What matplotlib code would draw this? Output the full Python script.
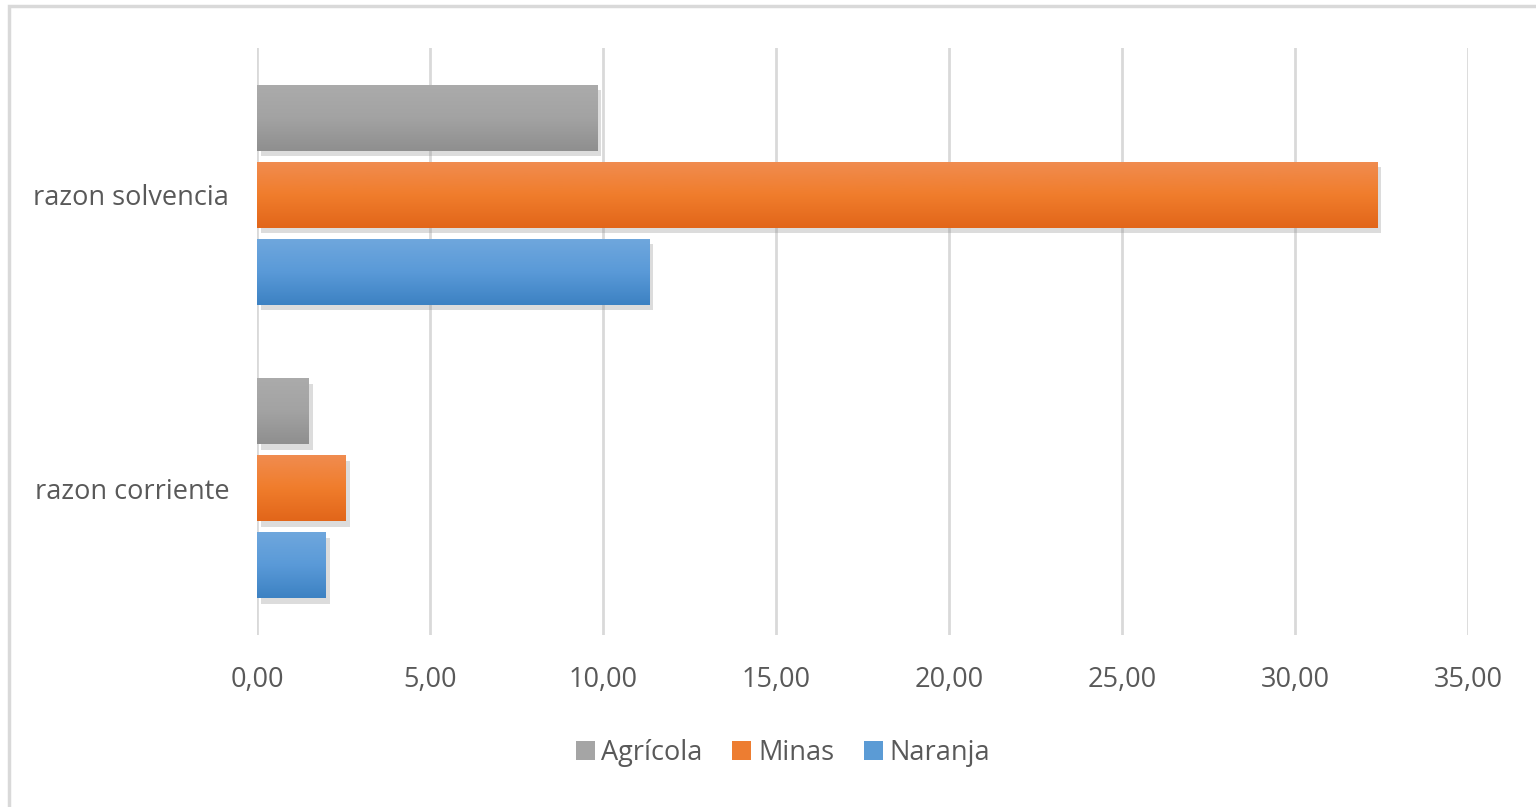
import matplotlib.pyplot as plt
import matplotlib.patheffects as pe
from matplotlib.colors import LinearSegmentedColormap
from matplotlib.patches import Rectangle
import numpy as np

categorias = ["razon corriente", "razon solvencia"]
series = ["Agrícola", "Minas", "Naranja"]
agricola = [1.50, 9.83]
minas = [2.57, 32.37]
naranja = [1.99, 11.33]
xticks = [0, 5, 10, 15, 20, 25, 30, 35]
xlabels = ["0,00", "5,00", "10,00", "15,00", "20,00", "25,00", "30,00", "35,00"]

valores = [agricola, minas, naranja]
# top, middle, bottom colour of each gradient
grad = [("#ababab", "#a3a3a3", "#8f8f8f"),
        ("#f08c50", "#f07d2c", "#e2661a"),
        ("#6fa7dd", "#5a9ad8", "#3d82c3")]
solid = ["#a5a5a5", "#ed7d31", "#5b9bd5"]

plt.rcParams['font.family'] = ['Open Sans', 'DejaVu Sans']
txt = "#595959"

fig = plt.figure(figsize=(15.36, 8.07), dpi=100)
ax = fig.add_axes([257/1536, 1 - 635/807, (1468 - 257)/1536, (635 - 48)/807])

h = 0.225
step = 0.262
ypos = np.arange(len(categorias))
sombra = [pe.SimplePatchShadow(offset=(3, -4), shadow_rgbFace="#8c8c8c", alpha=0.3), pe.Normal()]
for i, (vals, g, c) in enumerate(zip(valores, grad, solid)):
    off = (1 - i) * step
    bars = ax.barh(ypos + off, vals, height=h, color=c, label=series[i], zorder=3)
    cmap = LinearSegmentedColormap.from_list("g%d" % i, list(g))
    for b in bars:
        b.set_path_effects(sombra)
        x0, y0, w, hh = b.get_x(), b.get_y(), b.get_width(), b.get_height()
        im = ax.imshow(np.linspace(0, 1, 50).reshape(-1, 1), cmap=cmap, aspect='auto',
                       extent=(x0, x0 + w, y0, y0 + hh), origin='upper', zorder=4,
                       interpolation='bilinear')
        im.set_clip_path(b)

ax.set_xlim(0, 35)
ax.set_ylim(-0.5, 1.5)
ax.set_xticks(xticks)
ax.set_xticklabels(xlabels)
ax.set_yticks(ypos)
ax.set_yticklabels(categorias)
ax.tick_params(axis='x', length=0, pad=22, labelsize=19.5, labelcolor=txt)
ax.tick_params(axis='y', length=0, pad=20, labelsize=19.5, labelcolor=txt)
ax.grid(True, axis='x', color="#d9d9d9", linewidth=2, zorder=0)
for s in ax.spines.values():
    s.set_visible(False)

leg = fig.legend(loc='center', bbox_to_anchor=(783/1536, 1 - 753/807), ncol=3, frameon=False,
                 fontsize=19.5, labelcolor=txt, handlelength=0.7, handleheight=0.7,
                 handletextpad=0.25, columnspacing=1.1)
for hdl in leg.legend_handles:
    hdl.set_path_effects([])

fig.patches.append(Rectangle((9/1536, -0.01), 1.01, 1 - 6/807 + 0.01, transform=fig.transFigure,
                             fill=False, edgecolor="#d9d9d9", linewidth=2.5))

fig.savefig("out.png", dpi=100)
